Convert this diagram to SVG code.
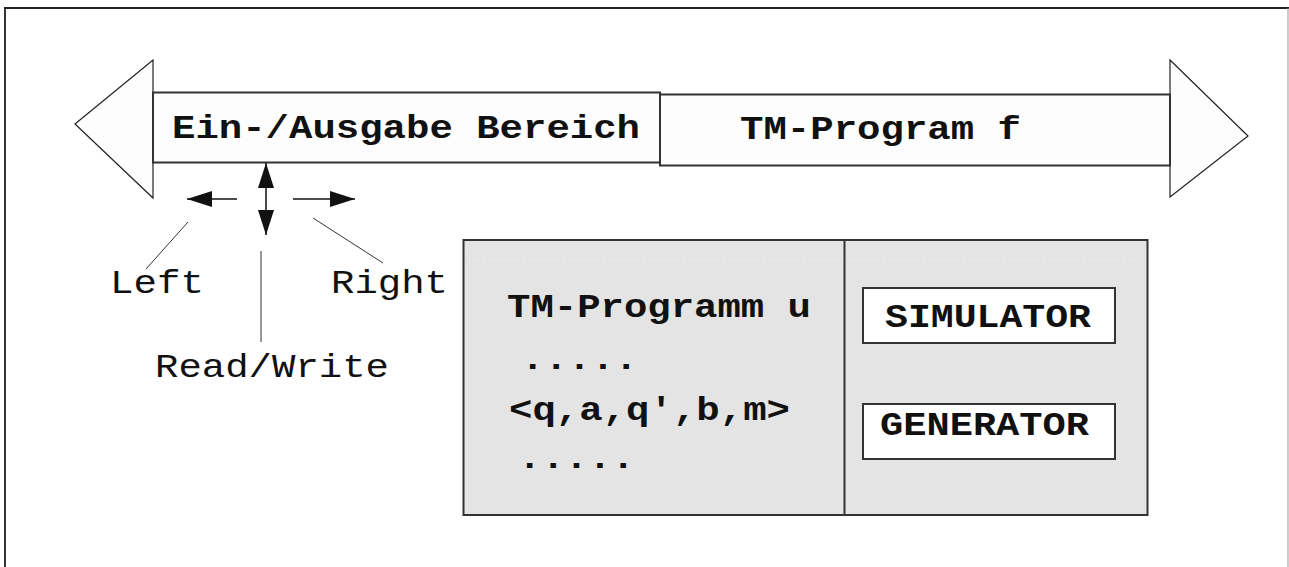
<svg xmlns="http://www.w3.org/2000/svg" width="1289" height="567" viewBox="0 0 1289 567">
  <style>
    .t { font-family: "Liberation Mono", "Courier New", monospace; font-size: 34px; fill: #111; }
    .b { font-weight: bold; }
    .edge { stroke: #333; stroke-width: 2; }
    .head { fill: #fdfdfd; stroke: #222; stroke-width: 1.2; }
    .lead { stroke: #333; stroke-width: 1; fill: none; }
    .mv { stroke: #111; stroke-width: 1.5; fill: none; }
  </style>
  <defs>
    <marker id="ah" markerUnits="userSpaceOnUse" markerWidth="26" markerHeight="18" refX="25" refY="9" orient="auto-start-reverse">
      <path d="M0,1 L25,9 L0,17 Z" fill="#111"/>
    </marker>
  </defs>
  <rect x="0" y="0" width="1289" height="567" fill="#ffffff"/>
  <g id="frame">
    <line x1="5" y1="8" x2="5" y2="567" stroke="#333" stroke-width="2"/>
    <line x1="4" y1="8" x2="1289" y2="8" stroke="#222" stroke-width="2"/>
    <line x1="1288" y1="8" x2="1288" y2="567" stroke="#999" stroke-width="1"/>
  </g>
  <g id="tape">
    <polygon class="head" points="75,124 153,60 153,198"/>
    <polygon class="head" points="1170,60 1248,136 1170,197"/>
    <rect x="153" y="92.5" width="507" height="70" fill="#fdfdfd" class="edge"/>
    <rect x="660" y="94.5" width="510" height="71" fill="#fdfdfd" class="edge"/>
    <text class="t b" x="172" y="138" textLength="468" lengthAdjust="spacingAndGlyphs">Ein-/Ausgabe Bereich</text>
    <text class="t b" x="740" y="139" textLength="281" lengthAdjust="spacingAndGlyphs">TM-Program f</text>
  </g>
  <g id="connectors">
    <line class="mv" x1="266" y1="187" x2="266" y2="211"/>
    <line class="mv" x1="266" y1="188" x2="266" y2="163" marker-end="url(#ah)"/>
    <line class="mv" x1="266" y1="210" x2="266" y2="235" marker-end="url(#ah)"/>
    <line class="mv" x1="237" y1="199" x2="187" y2="199" marker-end="url(#ah)"/>
    <line class="mv" x1="293" y1="199" x2="355" y2="199" marker-end="url(#ah)"/>
    <line class="lead" x1="188" y1="222" x2="146" y2="269"/>
    <line class="lead" x1="313" y1="218" x2="383" y2="263"/>
    <line class="lead" x1="261" y1="251" x2="261" y2="342"/>
  </g>
  <g id="labels">
    <text class="t" x="110" y="293" textLength="94" lengthAdjust="spacingAndGlyphs">Left</text>
    <text class="t" x="331" y="293" textLength="117" lengthAdjust="spacingAndGlyphs">Right</text>
    <text class="t" x="155" y="377" textLength="234" lengthAdjust="spacingAndGlyphs">Read/Write</text>
  </g>
  <g id="program-box">
    <rect x="463.5" y="240" width="684" height="275" fill="#e4e4e4" class="edge"/>
    <line x1="468" y1="260" x2="1143" y2="260" stroke="#efefef" stroke-width="1" stroke-dasharray="2,3"/>
    <line x1="844.5" y1="240" x2="844.5" y2="515" class="edge"/>
    <text class="t b" x="507" y="317" textLength="304" lengthAdjust="spacingAndGlyphs">TM-Programm u</text>
    <text class="t b" x="521" y="369" textLength="117" lengthAdjust="spacingAndGlyphs">.....</text>
    <text class="t b" x="509" y="420" textLength="281" lengthAdjust="spacingAndGlyphs">&lt;q,a,q',b,m&gt;</text>
    <text class="t b" x="518" y="468" textLength="117" lengthAdjust="spacingAndGlyphs">.....</text>
  </g>
  <g id="simulator">
    <rect x="863" y="288" width="252" height="55" fill="#ffffff" class="edge"/>
    <text class="t b" x="885" y="327" textLength="206" lengthAdjust="spacingAndGlyphs">SIMULATOR</text>
  </g>
  <g id="generator">
    <rect x="863" y="404" width="252" height="55" fill="#ffffff" class="edge"/>
    <text class="t b" x="880" y="435" textLength="209" lengthAdjust="spacingAndGlyphs">GENERATOR</text>
  </g>
</svg>
